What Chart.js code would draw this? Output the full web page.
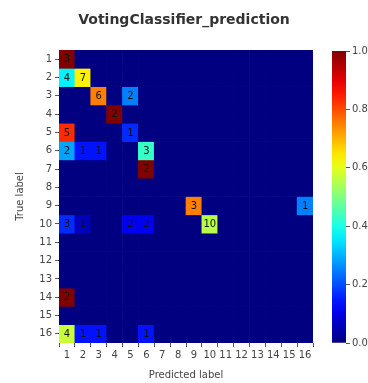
<!DOCTYPE html>
<html>
<head>
<meta charset="utf-8">
<script src="https://cdn.jsdelivr.net/npm/chart.js@4/dist/chart.umd.min.js"></script>
<style>
  html, body { margin: 0; padding: 0; background: #fff; }
  #wrap { position: relative; width: 368px; height: 383px; }
  #matriz { position: absolute; left: 0; top: 0; }
  #barra { position: absolute; left: 320px; top: 0; }
</style>
</head>
<body>
<div id="wrap">
  <canvas id="matriz" width="368" height="383"></canvas>
  <canvas id="barra" width="48" height="383"></canvas>
</div>
<script>
// classes 1..16 (true label = rows, predicted label = columns)
const classes = ['1','2','3','4','5','6','7','8','9','10','11','12','13','14','15','16'];

// counts, one array per true label
const row1  = [3,0,0,0,0,0,0,0,0,0,0,0,0,0,0,0];
const row2  = [4,7,0,0,0,0,0,0,0,0,0,0,0,0,0,0];
const row3  = [0,0,6,0,2,0,0,0,0,0,0,0,0,0,0,0];
const row4  = [0,0,0,2,0,0,0,0,0,0,0,0,0,0,0,0];
const row5  = [5,0,0,0,1,0,0,0,0,0,0,0,0,0,0,0];
const row6  = [2,1,1,0,0,3,0,0,0,0,0,0,0,0,0,0];
const row7  = [0,0,0,0,0,2,0,0,0,0,0,0,0,0,0,0];
const row8  = [0,0,0,0,0,0,0,0,0,0,0,0,0,0,0,0];
const row9  = [0,0,0,0,0,0,0,0,3,0,0,0,0,0,0,1];
const row10 = [3,1,0,0,2,2,0,0,0,10,0,0,0,0,0,0];
const row11 = [0,0,0,0,0,0,0,0,0,0,0,0,0,0,0,0];
const row12 = [0,0,0,0,0,0,0,0,0,0,0,0,0,0,0,0];
const row13 = [0,0,0,0,0,0,0,0,0,0,0,0,0,0,0,0];
const row14 = [2,0,0,0,0,0,0,0,0,0,0,0,0,0,0,0];
const row15 = [0,0,0,0,0,0,0,0,0,0,0,0,0,0,0,0];
const row16 = [4,1,1,0,0,1,0,0,0,0,0,0,0,0,0,0];
const counts = [row1,row2,row3,row4,row5,row6,row7,row8,row9,row10,row11,row12,row13,row14,row15,row16];

const colorbarTicks = [0, 0.2, 0.4, 0.6, 0.8, 1.0];

// matplotlib "jet"
function jet(v) {
  const c = x => Math.round(255 * Math.max(0, Math.min(1, x)));
  return `rgb(${c(1.5 - Math.abs(4 * v - 3))},${c(1.5 - Math.abs(4 * v - 2))},${c(1.5 - Math.abs(4 * v - 1))})`;
}

const fonte = "'DejaVu Sans', sans-serif";
const corTexto = '#444';

const datasets = counts.map((linha, i) => {
  const total = linha.reduce((a, b) => a + b, 0);
  const r = i + 1;
  return {
    label: classes[i],
    data: linha.map(() => [r - 0.5, r + 0.5]),
    contagens: linha,
    backgroundColor: linha.map(v => jet(total ? v / total : 0)),
    borderWidth: 0,
    barPercentage: 1,
    categoryPercentage: 1,
    grouped: false
  };
});

const rotulosCelulas = {
  id: 'rotulosCelulas',
  afterDatasetsDraw(chart) {
    const ctx = chart.ctx;
    ctx.save();
    ctx.font = "10px " + fonte;
    ctx.fillStyle = '#111';
    ctx.textAlign = 'center';
    ctx.textBaseline = 'middle';
    chart.data.datasets.forEach((ds, i) => {
      chart.getDatasetMeta(i).data.forEach((el, j) => {
        const v = ds.contagens[j];
        if (!v) return;
        const p = el.getCenterPoint();
        ctx.fillText(String(v), p.x, p.y + 0.5);
      });
    });
    ctx.restore();
  }
};

new Chart(document.getElementById('matriz'), {
  type: 'bar',
  data: { labels: classes, datasets: datasets },
  options: {
    responsive: false,
    animation: false,
    layout: { padding: { left: 0, right: 0, top: 0, bottom: 2 } },
    plugins: {
      legend: { display: false },
      tooltip: { enabled: false },
      title: {
        display: true,
        text: 'VotingClassifier_prediction',
        color: '#333',
        font: { family: fonte, size: 14, weight: 'bold' },
        padding: { top: 11.6, bottom: 21.6 }
      }
    },
    scales: {
      x: {
        type: 'category',
        grid: { display: true, drawOnChartArea: false, tickLength: 4, color: '#555' },
        border: { display: false },
        ticks: { color: corTexto, font: { family: fonte, size: 10 }, autoSkip: false, maxRotation: 0, padding: 2 },
        title: { display: true, text: 'Predicted label', color: corTexto, font: { family: fonte, size: 10 }, padding: { top: 0, bottom: 0 } },
        afterFit: s => { s.height = 38; }
      },
      y: {
        type: 'linear',
        min: 0.5,
        max: 16.5,
        reverse: true,
        afterBuildTicks: s => { s.ticks = classes.map(c => ({ value: Number(c) })); },
        grid: { display: true, drawOnChartArea: false, tickLength: 4, color: '#555' },
        border: { display: false },
        ticks: { color: corTexto, font: { family: fonte, size: 10 }, padding: 3, callback: v => String(v) },
        title: { display: true, text: 'True label', color: corTexto, font: { family: fonte, size: 10 }, padding: { top: 14, bottom: 0 } },
        afterFit: s => { s.width = 59; }
      },
      // empty right axis that keeps room for the colorbar
      espaco: {
        type: 'linear',
        position: 'right',
        grid: { display: false },
        border: { display: false },
        ticks: { display: false },
        afterFit: s => { s.width = 55; }
      }
    }
  },
  plugins: [rotulosCelulas]
});

// colorbar
new Chart(document.getElementById('barra'), {
  type: 'bar',
  data: {
    labels: [''],
    datasets: [{
      data: [[0, 1]],
      backgroundColor: (c) => {
        const area = c.chart.chartArea;
        if (!area) return jet(0);
        const g = c.chart.ctx.createLinearGradient(0, area.bottom, 0, area.top);
        for (let i = 0; i <= 20; i++) g.addColorStop(i / 20, jet(i / 20));
        return g;
      },
      borderWidth: 0,
      barPercentage: 1,
      categoryPercentage: 1
    }]
  },
  options: {
    responsive: false,
    animation: false,
    layout: { padding: { left: 12, right: 0, top: 51, bottom: 40 } },
    plugins: { legend: { display: false }, tooltip: { enabled: false } },
    scales: {
      x: { display: false },
      y: {
        position: 'right',
        min: 0,
        max: 1,
        afterBuildTicks: s => { s.ticks = colorbarTicks.map(v => ({ value: v })); },
        grid: { display: true, drawOnChartArea: false, tickLength: 4, color: '#555' },
        border: { display: false },
        ticks: { color: corTexto, font: { family: fonte, size: 10 }, padding: 2, callback: v => v.toFixed(1) },
        afterFit: s => { s.width = 22; }
      }
    }
  }
});
</script>
</body>
</html>
